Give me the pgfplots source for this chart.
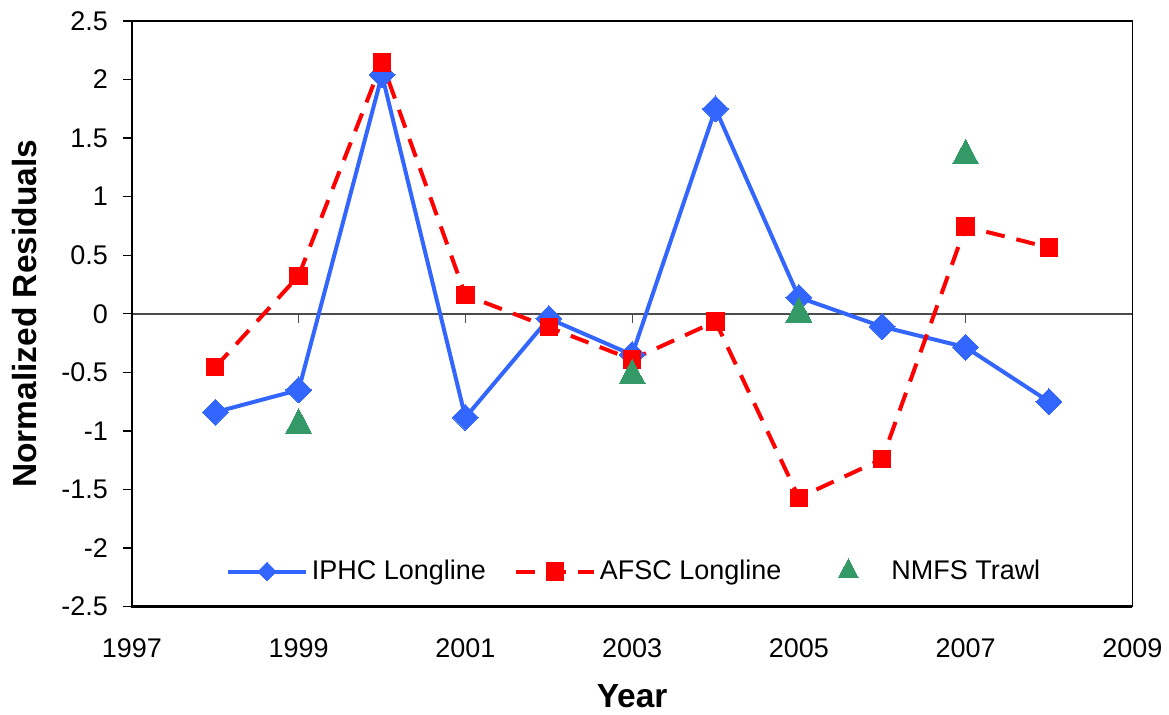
\documentclass[border=0pt]{standalone}
\usepackage{fontspec}
\setmainfont{Liberation Sans}
\usepackage{pgfplots}
\pgfplotsset{compat=1.18}
\definecolor{iphc}{RGB}{51,102,255}
\definecolor{afsc}{RGB}{255,0,0}
\definecolor{nmfs}{RGB}{51,153,102}
% x = year - 1997 (1998 -> 1, ..., 2008 -> 11)
\begin{document}
\begin{tikzpicture}
\begin{axis}[
  scale only axis,
  width=500.5pt, height=293pt,
  xmin=0, xmax=12, ymin=-2.5, ymax=2.5,
  xtick={0,2,4,6,8,10,12},
  xticklabels={1997,1999,2001,2003,2005,2007,2009},
  ytick={-2.5,-2,-1.5,-1,-0.5,0,0.5,1,1.5,2,2.5},
  ytick pos=left,
  tick align=outside,
  major tick length=4.5pt,
  x tick style={draw=none},
  y tick style={black, line width=0.65pt},
  axis line style={black, line width=0.65pt},
  /pgf/number format/assume math mode=true,
  tick label style={font=\fontsize{13.5}{16}\selectfont},
  x tick label style={yshift=-8pt},
  y tick label style={xshift=-4pt},
  xlabel={\bfseries Year},
  ylabel={\bfseries Normalized Residuals},
  label style={font=\fontsize{16.75}{19}\selectfont},
  xlabel style={at={(axis description cs:0.5,-0.152)}, anchor=center},
  ylabel style={at={(axis description cs:-0.1069,0.5)}, anchor=center},
  clip=false,
  legend columns=3,
  legend style={draw=none, fill=none, at={(axis description cs:0.503,0.060)}, anchor=center,
    font=\fontsize{13.5}{16}\selectfont,
    nodes={inner sep=2pt},
    /tikz/every even column/.append style={column sep=12pt}},
  legend image code/.code={%
    \draw[mark repeat=2,mark phase=2] plot coordinates {(0pt,0pt) (19.5pt,0pt) (39pt,0pt)};},
]
% zero line and its ticks
\draw[gray!60!black, line width=0.7pt] (axis cs:0,0) -- (axis cs:12,0);
\draw[gray!60!black, line width=0.6pt] (axis cs:2,0) -- (axis cs:2,-0.077);
\draw[gray!60!black, line width=0.6pt] (axis cs:4,0) -- (axis cs:4,-0.077);
\draw[gray!60!black, line width=0.6pt] (axis cs:6,0) -- (axis cs:6,-0.077);
\draw[gray!60!black, line width=0.6pt] (axis cs:8,0) -- (axis cs:8,-0.077);
\draw[gray!60!black, line width=0.6pt] (axis cs:10,0) -- (axis cs:10,-0.077);
% thicker left and bottom axis lines
\draw[black, line width=1.2pt] (axis cs:0,2.5) -- (axis cs:0,-2.5) -- (axis cs:12,-2.5);

\addplot[iphc, line width=2pt, mark=diamond*, mark size=6.5pt,
  mark options={solid, fill=iphc, draw=iphc, line width=0pt, xscale=1.333},
  legend image post style={every mark/.append style={scale=0.72}}]
coordinates {
 (1,-0.84) (2,-0.65) (3,2.04) (4,-0.885) (5,-0.04)
 (6,-0.35) (7,1.75) (8,0.14) (9,-0.11) (10,-0.285) (11,-0.75)
};
\addlegendentry{IPHC Longline}

\addplot[afsc, line width=2pt, dash pattern=on 9.5pt off 6pt, mark=square*, mark size=4.35pt,
  mark options={solid, fill=afsc, draw=afsc, line width=0pt}]
coordinates {
 (1,-0.455) (2,0.325) (3,2.145) (4,0.16) (5,-0.115)
 (6,-0.39) (7,-0.065) (8,-1.57) (9,-1.24) (10,0.745) (11,0.566)
};
\addlegendentry{AFSC Longline}

\addplot[color=nmfs, draw=none, mark=triangle*, mark size=7.5pt,
  mark options={fill=nmfs, draw=nmfs, line width=0pt, yscale=1.1},
  legend image code/.code={%
    \path[mark repeat=2,mark phase=2, draw opacity=0,
      every mark/.append style={scale=0.78, draw opacity=1, draw=nmfs, fill=nmfs}]
      plot coordinates {(0pt,0pt) (19.5pt,0pt) (39pt,0pt)};}]
coordinates {
 (2,-0.95) (6,-0.527) (8,0.0) (10,1.35)
};
\addlegendentry{NMFS Trawl}

\coordinate (sw) at (axis cs:0,-2.5);
\coordinate (ne) at (axis cs:12,2.5);
\end{axis}
\useasboundingbox ([shift={(-66pt,-52pt)}]sw) rectangle ([shift={(18pt,10.5pt)}]ne);
\end{tikzpicture}
\end{document}
